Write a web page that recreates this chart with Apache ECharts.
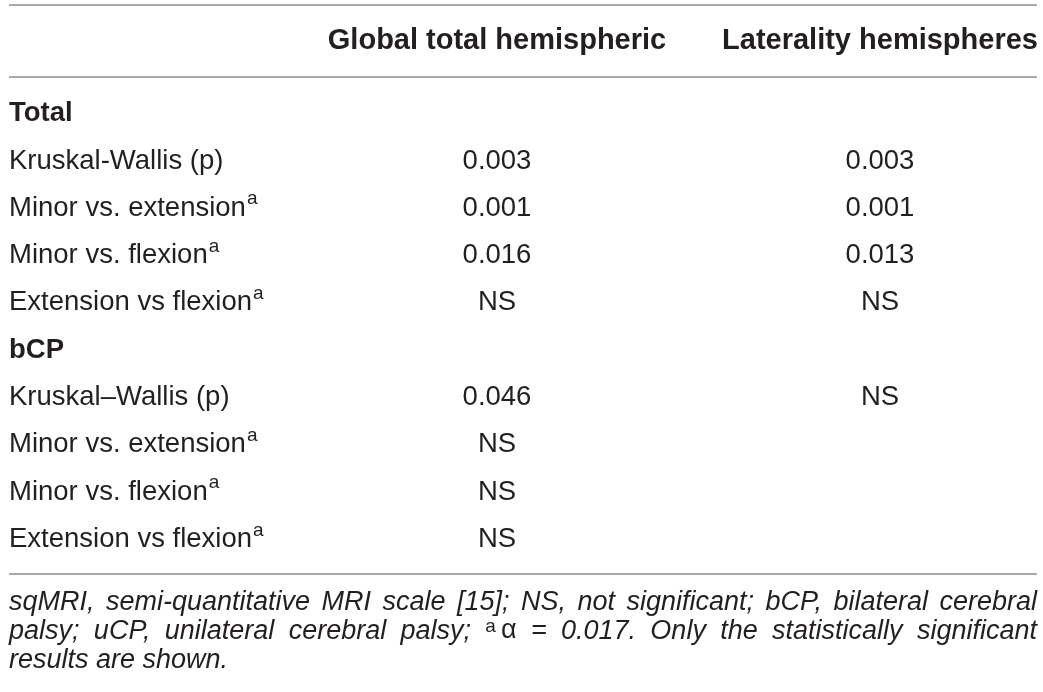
<!DOCTYPE html>
<html><head><meta charset="utf-8">
<script src="https://cdn.jsdelivr.net/npm/echarts@6/dist/echarts.min.js"></script>
<style>html,body{margin:0;padding:0;background:#fff}#c{width:1043px;height:692px}</style>
</head><body><div id="c"></div>
<script>
// ---- data ----
const headers = ['Global total hemispheric', 'Laterality hemispheres'];
const rowLabels = ['Total', 'Kruskal-Wallis (p)', 'Minor vs. extension', 'Minor vs. flexion', 'Extension vs flexion',
                   'bCP', 'Kruskal\u2013Wallis (p)', 'Minor vs. extension', 'Minor vs. flexion', 'Extension vs flexion'];
const sectionRows = [true, false, false, false, false, true, false, false, false, false];
const footMarks = ['', '', 'a', 'a', 'a', '', '', 'a', 'a', 'a'];
const globalTotal = ['', '0.003', '0.001', '0.016', 'NS', '', '0.046', 'NS', 'NS', 'NS'];
const laterality = ['', '0.003', '0.001', '0.013', 'NS', '', 'NS', '', '', ''];
const footnoteLines = [
  ['sqMRI,', 'semi-quantitative', 'MRI', 'scale', '[15];', 'NS,', 'not', 'significant;', 'bCP,', 'bilateral', 'cerebral'],
  ['palsy;', 'uCP,', 'unilateral', 'cerebral', 'palsy;', '^a\u03b1', '=', '0.017.', 'Only', 'the', 'statistically', 'significant'],
  ['results', 'are', 'shown.']
];

// ---- layout / style ----
const FONT = '"Liberation Sans", Arial, Helvetica, sans-serif';
const INK = '#231f20';
const RULE = '#a7a9ac';
const BODY = 27.5, HEAD = 29, SUP = 19, FOOT = 27, FSUP = 19;
const LEFT = 9, RIGHT = 1037;
const colX = [497, 880];
const colData = [globalTotal, laterality];

const mctx = document.createElement('canvas').getContext('2d');
function tw(text, size, weight, style) {
  mctx.font = (style || 'normal') + ' ' + (weight || 'normal') + ' ' + size + 'px ' + FONT;
  return mctx.measureText(text).width;
}
function txt(x, y, text, size, opts) {
  opts = opts || {};
  return {
    type: 'text', x: x, y: y, silent: true,
    style: {
      text: text, fontSize: size, fontFamily: FONT,
      fontWeight: opts.weight || 'normal', fontStyle: opts.style || 'normal',
      fill: INK, align: opts.align || 'left', verticalAlign: 'middle'
    }
  };
}

// footnote, justified
const footGraphics = [];
const footMid = [602, 631, 660];
footnoteLines.forEach(function (words, li) {
  const measured = words.map(function (w) {
    if (w[0] === '^') {
      const s = w[1], rest = w.slice(2);
      const ws = tw(s, FSUP), wr = tw(rest, FOOT);
      return { w: ws + 5 + wr, sup: s, rest: rest, ws: ws };
    }
    return { w: tw(w, FOOT, 'normal', 'italic'), t: w };
  });
  const sum = measured.reduce(function (a, m) { return a + m.w; }, 0);
  const last = li === footnoteLines.length - 1;
  const gap = last ? tw(' ', FOOT, 'normal', 'italic') : (RIGHT - LEFT - sum) / (words.length - 1);
  let x = LEFT;
  const y = footMid[li];
  measured.forEach(function (m) {
    if (m.sup) {
      footGraphics.push(txt(x, y - 4, m.sup, FSUP));
      footGraphics.push(txt(x + m.ws + 5, y, m.rest, FOOT));
    } else {
      footGraphics.push(txt(x, y, m.t, FOOT, { style: 'italic' }));
    }
    x += m.w + gap;
  });
});

const rules = [5, 77, 574].map(function (y) {
  return { type: 'line', silent: true, shape: { x1: LEFT, y1: y, x2: RIGHT, y2: y },
           style: { stroke: RULE, lineWidth: 2 } };
});
const headerGraphics = headers.map(function (h, k) {
  return txt(colX[k], 41, h, HEAD, { weight: 'bold', align: 'center' });
});

const chart = echarts.init(document.getElementById('c'), null, { renderer: 'canvas' });
chart.setOption({
  animation: false,
  backgroundColor: '#fff',
  grid: { left: 0, right: 0, top: 90, bottom: 129 },
  xAxis: { type: 'value', min: 0, max: 1043, show: false },
  yAxis: { type: 'category', inverse: true, show: false, data: rowLabels.map(function (_, i) { return 'r' + i; }) },
  graphic: rules.concat(headerGraphics, footGraphics),
  series: [{
    type: 'custom',
    silent: true,
    data: rowLabels.map(function (_, i) { return [0, i]; }),
    encode: { x: 0, y: 1 },
    renderItem: function (params, api) {
      const i = params.dataIndex;
      const y = api.coord([0, i])[1];
      const xL = api.coord([LEFT, i])[0];
      const bold = sectionRows[i];
      const children = [txt(xL, y, rowLabels[i], BODY, { weight: bold ? 'bold' : 'normal' })];
      if (footMarks[i]) {
        const w = tw(rowLabels[i], BODY, bold ? 'bold' : 'normal');
        children.push(txt(xL + w + 1, y - 9, footMarks[i], SUP));
      }
      colData.forEach(function (col, k) {
        if (col[i]) children.push(txt(api.coord([colX[k], i])[0], y, col[i], BODY, { align: 'center' }));
      });
      return { type: 'group', children: children };
    }
  }]
});
</script>
</body></html>
